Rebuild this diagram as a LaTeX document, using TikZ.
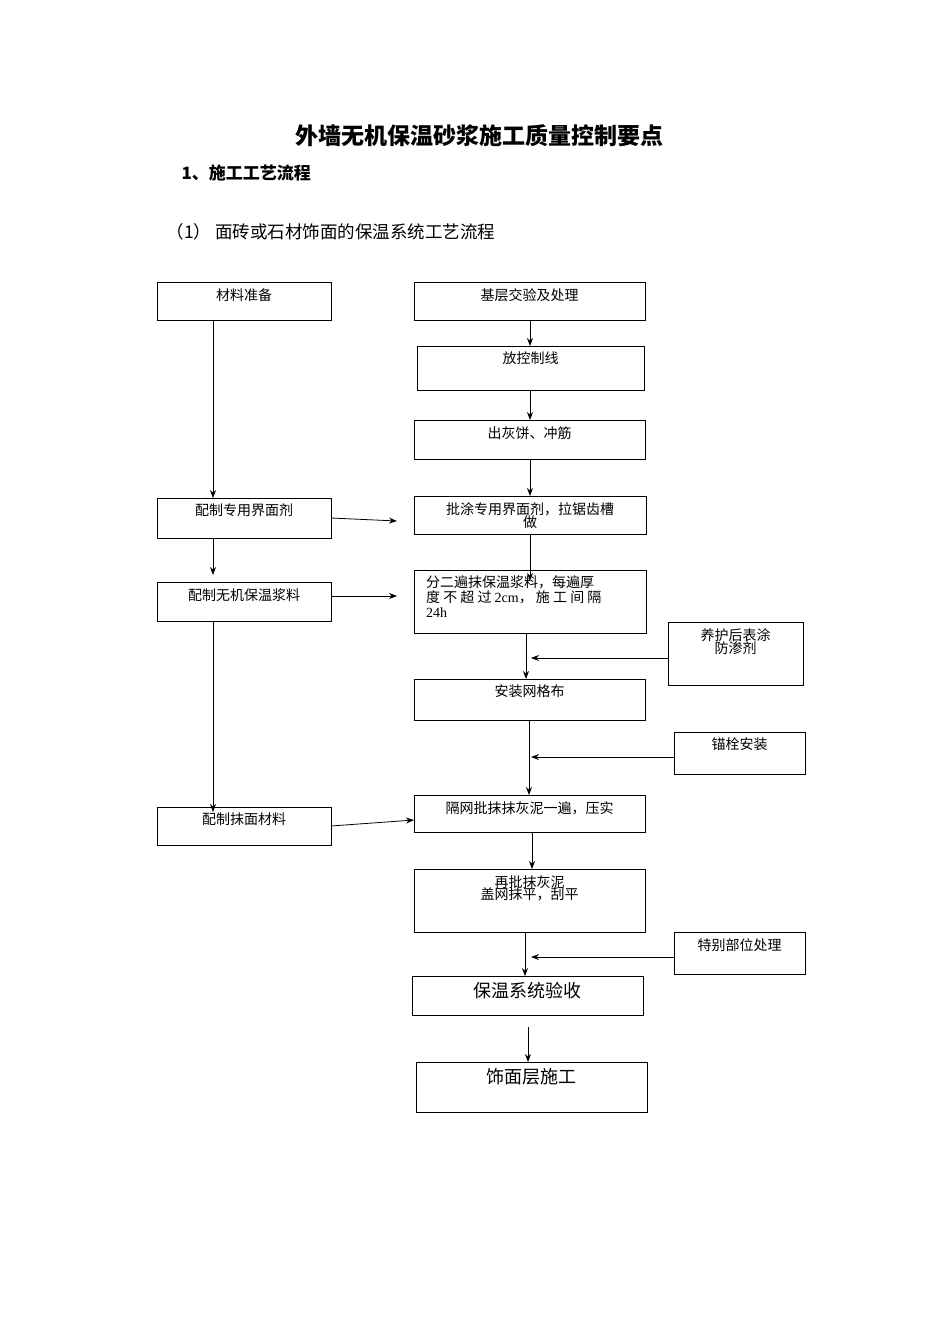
\documentclass[tikz,border=0pt]{standalone}
\usepackage{fontspec}
\setmainfont{Liberation Serif}
\newfontfamily\cjk{Noto Sans CJK SC}
\usetikzlibrary{arrows.meta}
\tikzset{
  box/.style={draw, line width=0.8pt},
  lab/.style={font=\cjk\fontsize{14}{16}\selectfont, inner sep=0pt, anchor=north, align=center},
  arr/.style={line width=0.8pt, -{Stealth[length=8pt,width=6pt]}},
}
\newcommand{\bx}[6]{%
  \draw[box] (#2,#3) rectangle (#4,#5);
  \coordinate (#1-n) at ({(#2+#4)/2},#3);
  \coordinate (#1-s) at ({(#2+#4)/2},#5);
  \coordinate (#1-w) at (#2,{(#3+#5)/2});
  \coordinate (#1-e) at (#4,{(#3+#5)/2});
  \node[lab] (#1) at ({(#2+#4)/2},#3+6) {#6};}
\begin{document}
\begin{tikzpicture}[x=1pt,y=-1pt]
\useasboundingbox (0,0) rectangle (950,1344);
\node[font=\cjk\bfseries\fontsize{23}{26}\selectfont] (title) at (479,136) {外墙无机保温砂浆施工质量控制要点};
\node[font=\cjk\bfseries\fontsize{17}{20}\selectfont, anchor=west] (h1) at (178,173) {1、施工工艺流程};
\node[font=\cjk\fontsize{17.5}{20}\selectfont, anchor=west] (h2) at (163,232) {（1） 面砖或石材饰面的保温系统工艺流程};

\bx{a}{157}{282}{331}{320}{材料准备}
\bx{b}{414}{282}{645}{320}{基层交验及处理}
\bx{c}{417}{346}{644}{390}{放控制线}
\bx{d}{414}{420}{645}{459}{出灰饼、冲筋}
\bx{e}{157}{498}{331}{538}{配制专用界面剂}
\bx{f}{414}{496}{646}{534}{批涂专用界面剂，拉锯齿槽\\[-3pt]做}
\bx{g}{157}{582}{331}{621}{配制无机保温浆料}
\draw[box] (414,570) rectangle (646,633);
\node[lab, anchor=north west, align=left] (h) at (426,575) {分二遍抹保温浆料，每遍厚\\[-1pt]度 不 超 过 {\rmfamily 2cm}， 施 工 间 隔\\[-1pt]{\rmfamily 24h}};
\bx{i}{668}{622}{803}{685}{养护后表涂\\[-3pt]防渗剂}
\bx{j}{414}{679}{645}{720}{安装网格布}
\bx{k}{674}{732}{805}{774}{锚栓安装}
\bx{l}{157}{807}{331}{845}{配制抹面材料}
\bx{m}{414}{795}{645}{832}{隔网批抹抹灰泥一遍，压实}
\bx{n}{414}{869}{645}{932}{再批抹灰泥\\[-3pt]盖网抹平，刮平}
\bx{o}{674}{932}{805}{974}{特别部位处理}
\draw[box] (412,976) rectangle (643,1015);
\node[lab, font=\cjk\fontsize{18}{20}\selectfont] (p) at (527,982) {保温系统验收};
\draw[box] (416,1062) rectangle (647,1112);
\node[lab, font=\cjk\fontsize{18}{20}\selectfont] (q) at (531,1068) {饰面层施工};

% left column
\draw[arr] (213,320) -- (213,498);
\draw[arr] (213,538) -- (213,575);
\draw[arr] (213,621) -- (213,812);
% horizontals
\draw[arr] (e-e) -- (397,521);
\draw[arr] (331,596) -- (397,596);
\draw[arr] (l-e) -- (414,820);
% main column
\draw[arr] (530,320) -- (530,346);
\draw[arr] (530,390) -- (530,420);
\draw[arr] (530,459) -- (530,496);
\draw[arr] (530,534) -- (530,581);
\draw[arr] (526,633) -- (526,679);
\draw[arr] (529,720) -- (529,795);
\draw[arr] (532,832) -- (532,869);
\draw[arr] (525,932) -- (525,976);
\draw[arr] (528,1027) -- (528,1062);
% side inputs
\draw[arr] (668,658) -- (531,658);
\draw[arr] (674,757) -- (531,757);
\draw[arr] (674,957) -- (531,957);
\end{tikzpicture}
\end{document}
